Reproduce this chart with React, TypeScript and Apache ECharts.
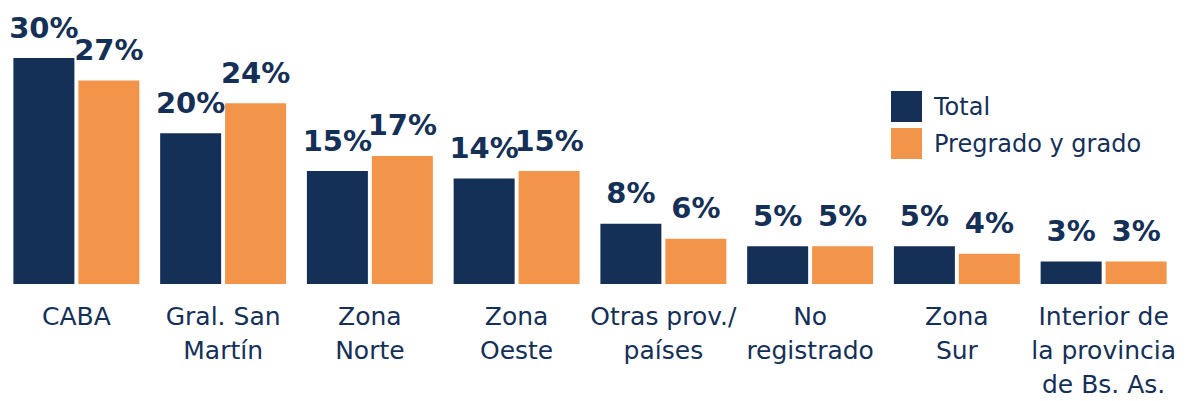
import React, { useEffect, useRef } from "react";
import * as echarts from "echarts";

const categories = [
  "CABA",
  "Gral. San\nMartín",
  "Zona\nNorte",
  "Zona\nOeste",
  "Otras prov./\npaíses",
  "No\nregistrado",
  "Zona\nSur",
  "Interior de\nla provincia\nde Bs. As.",
];
const totalValues = [30, 20, 15, 14, 8, 5, 5, 3];
const gradoValues = [27, 24, 17, 15, 6, 5, 4, 3];
const seriesNames = ["Total", "Pregrado y grado"];

const NAVY = "#153057";
const ORANGE = "#f3944b";
const FONT = "DejaVu Sans";

export default function App() {
  const ref = useRef<HTMLDivElement>(null);
  useEffect(() => {
    if (!ref.current) return;
    const chart = echarts.init(ref.current, undefined, { renderer: "svg" });
    const label = {
      show: true,
      position: "top" as const,
      distance: 16,
      formatter: "{c}%",
      color: NAVY,
      fontFamily: FONT,
      fontWeight: "bold" as const,
      fontSize: 29,
    };
    chart.setOption({
      animation: false,
      backgroundColor: "#ffffff",
      grid: { left: 3, width: 1174, top: 58, bottom: 117, containLabel: false },
      legend: {
        orient: "vertical",
        left: 886,
        top: 86,
        itemWidth: 31,
        itemHeight: 31,
        itemGap: 6,
        icon: "rect",
        textStyle: { color: NAVY, fontFamily: FONT, fontSize: 24, padding: [0, 0, 0, 7] },
        data: seriesNames,
      },
      xAxis: {
        type: "category",
        data: categories,
        axisLine: { show: false },
        axisTick: { show: false },
        axisLabel: {
          interval: 0,
          margin: 15,
          color: NAVY,
          fontFamily: FONT,
          fontSize: 25,
          lineHeight: 34,
        },
      },
      yAxis: {
        type: "value",
        min: 0,
        max: 30,
        show: false,
        splitLine: { show: false },
      },
      series: [
        {
          name: seriesNames[0],
          type: "bar",
          data: totalValues,
          barWidth: 61,
          barGap: "6.5%",
          itemStyle: { color: NAVY },
          label,
        },
        {
          name: seriesNames[1],
          type: "bar",
          data: gradoValues,
          barWidth: 61,
          itemStyle: { color: ORANGE },
          label,
        },
      ],
    });
    return () => chart.dispose();
  }, []);
  return (
    <div
      ref={ref}
      style={{ position: "absolute", left: 0, top: 0, width: 1199, height: 401 }}
    />
  );
}
